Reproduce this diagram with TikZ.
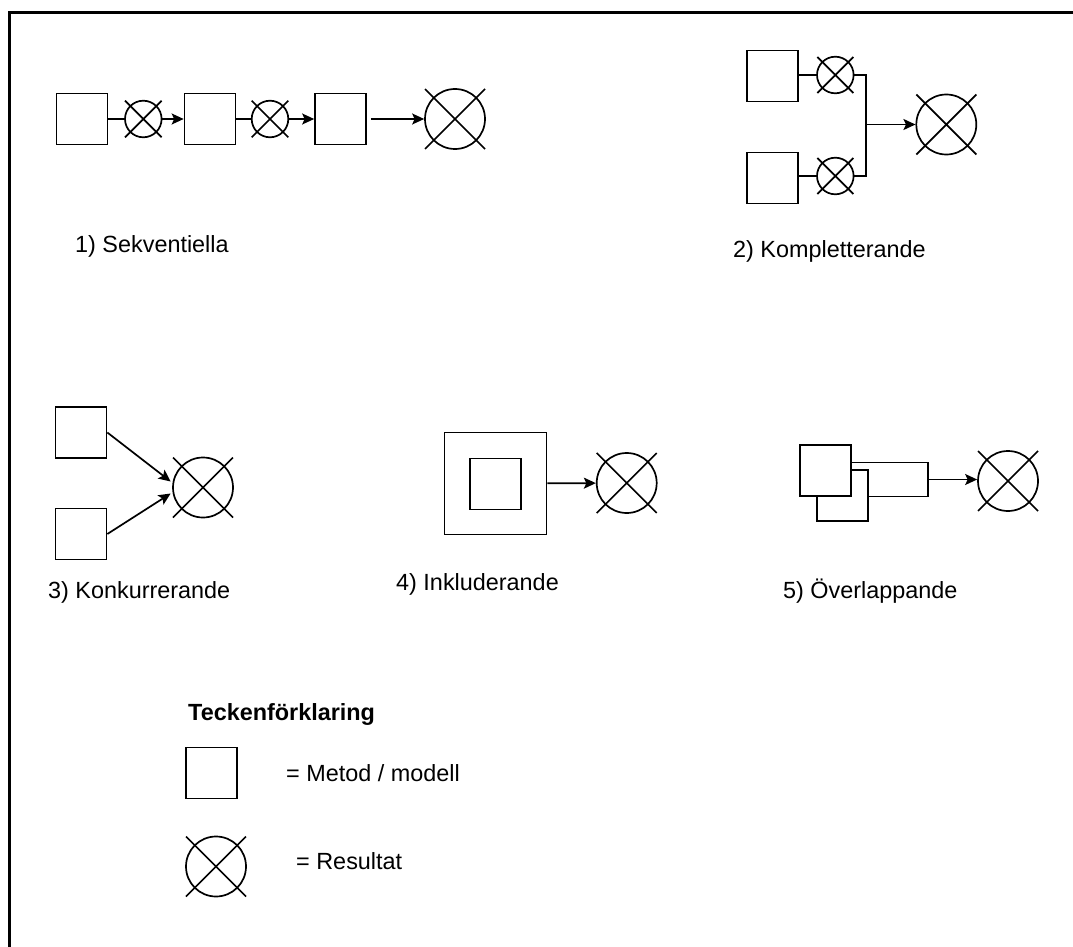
\documentclass[tikz,border=0pt]{standalone}
\usepackage{fontspec}
\setmainfont{Liberation Sans}
\usetikzlibrary{calc,arrows.meta}
\newcommand\crossres[2]{%
  \draw[ln] ($(#1.center)+(-#2,-#2)$) -- ($(#1.center)+(#2,#2)$)
            ($(#1.center)+(-#2,#2)$) -- ($(#1.center)+(#2,-#2)$);}
\begin{document}
\begin{tikzpicture}[x=1pt,y=-1pt,
  ln/.style={line width=1.7pt},
  metod/.style={draw,ln,rectangle,minimum size=51pt,inner sep=0pt,fill=white},
  bigmetod/.style={metod,minimum size=102pt},
  res/.style={draw,ln,circle,minimum size=60pt,inner sep=0pt},
  smallres/.style={res,minimum size=36.6pt},
  arr/.style={ln,-{Stealth[length=12pt,width=11pt,inset=2.5pt]}},
  lbl/.style={anchor=base west,inner sep=0pt,font=\fontsize{23.4}{27}\selectfont},
  hd/.style={lbl,font=\fontsize{23.4}{27}\selectfont\bfseries}]
\useasboundingbox (0,0) rectangle (1073,947);
\fill[white] (0,0) rectangle (1073,947);
\draw[line width=3pt] (9,960) -- (9,12.5) -- (1080,12.5);

% 1) Sekventiella
\node[metod] (b1) at (82,119) {};
\node[smallres] (c1) at (143.3,119) {};
\node[metod] (b2) at (210,119) {};
\node[smallres] (c2) at (270,119) {};
\node[metod] (b3) at (340.5,119) {};
\node[res] (r1) at (455,119) {};
\crossres{c1}{18.3}\crossres{c2}{18.3}\crossres{r1}{30}
\draw[ln] (b1) -- (c1);
\draw[arr] (c1) -- (b2);
\draw[ln] (b2) -- (c2);
\draw[arr] (c2) -- (b3);
\draw[arr] ([xshift=4pt]b3.east) -- (r1);
\node[lbl] (l1) at (75,252) {1) Sekventiella};

% 2) Kompletterande
\node[metod] (bt) at (772.5,76) {};
\node[smallres] (ct) at (835.3,75) {};
\node[metod] (bb) at (772.5,178) {};
\node[smallres] (cb) at (835.3,176) {};
\node[res] (r2) at (946.3,124.5) {};
\crossres{ct}{18}\crossres{cb}{18}\crossres{r2}{30}
\coordinate (j2) at (866,124.5);
\draw[ln] (bt.east |- ct) -- (ct);
\draw[ln] (bb.east |- cb) -- (cb);
\draw[ln] (ct) -- (ct -| j2) -- (cb -| j2) -- (cb);
\draw[arr] (j2) -- (r2);
\node[lbl] (l2) at (733,257) {2) Kompletterande};

% 3) Konkurrerande
\node[metod] (k1) at (81,432.5) {};
\node[metod] (k2) at (81,534) {};
\node[res] (r3) at (203,487.5) {};
\crossres{r3}{30}
\draw[arr] (k1.east) -- ([shift={(-1.5pt,6pt)}]r3.west);
\draw[arr] (k2.east) -- ([shift={(-1.5pt,-6pt)}]r3.west);
\node[lbl] (l3) at (48,598) {3) Konkurrerande};

% 4) Inkluderande
\node[bigmetod] (o4) at (495.5,483.5) {};
\node[metod] (i4) at (495.5,484) {};
\node[res] (r4) at (626.7,483) {};
\crossres{r4}{30}
\draw[arr] (o4) -- (r4);
\node[lbl] (l4) at (396,590) {4) Inkluderande};

% 5) Överlappande
\node[draw,ln,rectangle,fill=white,minimum width=97pt,minimum height=34pt,inner sep=0pt] (c5) at (879.2,479.5) {};
\node[metod] (b5) at (842.8,495.8) {};
\node[metod] (a5) at (825.8,470.8) {};
\node[res] (r5) at (1008,481) {};
\crossres{r5}{30}
\draw[arr] (c5.east) -- (c5.east -| r5.west);
\node[lbl] (l5) at (783,598) {5) Överlappande};

% Teckenförklaring
\node[hd] (th) at (188,720) {Teckenförklaring};
\node[metod] (lm) at (211.5,773) {};
\node[lbl] (tm) at (286,781) {= Metod / modell};
\node[res] (lr) at (216,866.5) {};
\crossres{lr}{30}
\node[lbl] (tr) at (296,869.5) {= Resultat};
\end{tikzpicture}
\end{document}
